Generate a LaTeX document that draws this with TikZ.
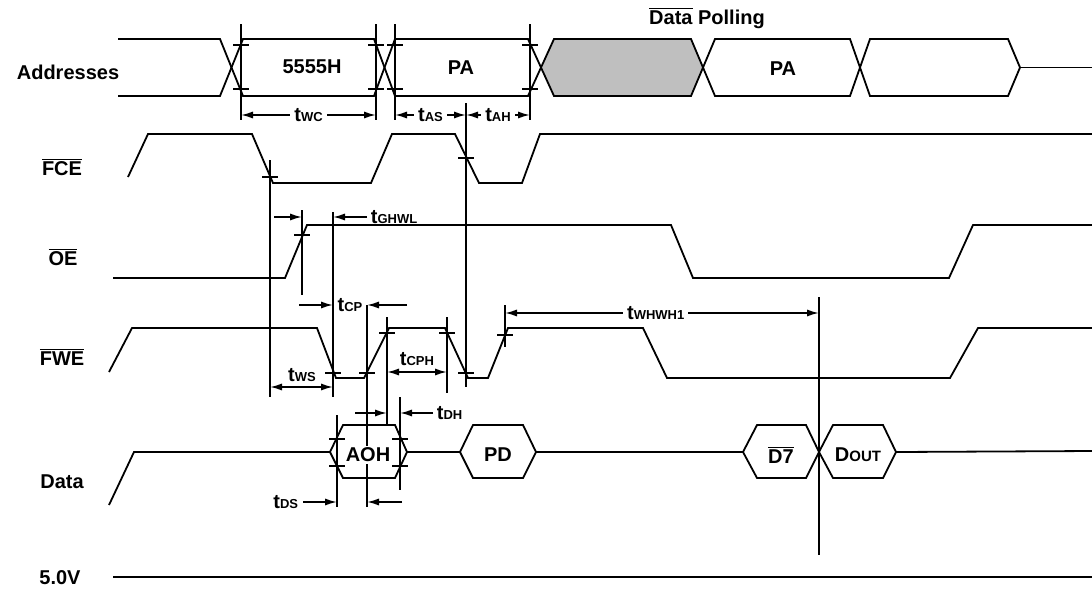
\documentclass[tikz,border=0pt]{standalone}
\usepackage{fontspec}
\setmainfont{Liberation Sans}
\usetikzlibrary{arrows.meta}
\newcommand{\ovl}[1]{$\overline{\mbox{#1}}$}
\newcommand{\tsub}[1]{t{\fontsize{6.5}{7}\selectfont #1}}
\begin{document}
\begin{tikzpicture}[x=0.5pt,y=-0.5pt,line width=0.9pt,
  >={Latex[length=6pt,width=3.6pt]},
  every node/.style={font=\bfseries\fontsize{10}{12}\selectfont},
  tlab/.style={fill=white,inner sep=2pt}]
\useasboundingbox (0,0) rectangle (1092,590);

%signal names on the left
\node (addr) at (68,72) {Addresses};
\node (fce) at (62,167) {\ovl{FCE}};
\node (oe) at (63,257) {\ovl{OE}};
\node (fwe) at (62,357) {\ovl{FWE}};
\node (data) at (62,482) {Data};
\node (vcc) at (60,578) {5.0V};

%address bus
\draw (118,39) -- (220,39) -- (231.5,67.5);
\draw (118,96) -- (220,96) -- (231.5,67.5);
\draw (231.5,67.5) -- (243,39) -- (374,39) -- (384.5,67.5) -- (374,96) -- (243,96) -- cycle;
\draw (384.5,67.5) -- (395,39) -- (528,39) -- (541,67.5) -- (528,96) -- (395,96) -- cycle;
\draw[fill=black!25] (541,67.5) -- (554,39) -- (691,39) -- (703,67.5) -- (691,96) -- (554,96) -- cycle;
\draw (703,67.5) -- (715,39) -- (850,39) -- (860,67.5) -- (850,96) -- (715,96) -- cycle;
\draw (860,67.5) -- (870,39) -- (1008,39) -- (1020,67.5) -- (1008,96) -- (870,96) -- cycle;
\draw (1020,67.5) -- (1092,67.5);
\node (a1) at (312,67) {5555H};
\node (a2) at (461,68) {PA};
\node (a4) at (783,69) {PA};
\node (poll) at (707,18) {\ovl{Data} Polling};

%control lines
\draw (128,177) -- (148,134) -- (252,134) -- (273,183) -- (371,183) -- (392,134)
  -- (455,134) -- (479,183) -- (522,183) -- (540,134) -- (1092,134);
\draw (113,278) -- (285,278) -- (307,225) -- (671,225) -- (693,278) -- (949,278)
  -- (973,225) -- (1092,225);
\draw (109,372) -- (132,328) -- (317,328) -- (336,378) -- (364,378) -- (389,328)
  -- (445,328) -- (468,378) -- (488,378) -- (508,328) -- (643,328) -- (667,378)
  -- (950,378) -- (978,328) -- (1092,328);

%data bus
\draw (109,505) -- (134,452) -- (330,452);
\draw (330,452) -- (343,425) -- (395,425) -- (407,452) -- (395,478) -- (343,478) -- cycle;
\draw (407,452) -- (460,452);
\draw (460,452) -- (473,425) -- (523,425) -- (536,452) -- (523,478) -- (473,478) -- cycle;
\draw (536,452) -- (743,452);
\draw (743,452) -- (757,425) -- (806,425) -- (819,452) -- (806,478) -- (757,478) -- cycle;
\draw (819,452) -- (833,425) -- (883,425) -- (896,452) -- (883,478) -- (833,478) -- cycle;
\draw (896,452) -- (1092,451);
\draw (113,577) -- (1092,577);

%reference lines
\foreach \x in {241,376,395,530}
  \draw (\x,24) -- (\x,120);
\foreach \x/\ya/\yb in {466/103/387, 270/160/397, 302/210/295, 333/212/397,
  367/305/507, 387/317/425, 447/317/393, 505/305/347, 337/415/507,
  400/397/490, 819/297/555}
  \draw (\x,\ya) -- (\x,\yb);
\foreach \x/\y in {241/45, 241/89, 376/45, 376/89, 395/45, 395/89, 530/45, 530/89,
  270/177, 466/158, 302/235, 333/373, 367/373, 387/333, 447/333, 466/373,
  505/335, 337/439, 337/466, 400/439, 400/466}
  \draw (\x-8,\y) -- (\x+8,\y);

\node[fill=white,inner sep=1pt] (aoh) at (368,455) {AOH};
\node (pd) at (498,455) {PD};
\node (d7) at (781,455) {\ovl{D7}};
\node (dout) at (858,455) {D{\fontsize{7.5}{8}\selectfont OUT}};

%timing parameters
\draw[<->] (241,115) -- node[tlab] (twc) {\tsub{WC}} (376,115);
\draw[<->] (395,115) -- node[tlab] (tas) {\tsub{AS}} (466,115);
\draw[<->] (466,115) -- node[tlab] (tah) {\tsub{AH}} (530,115);
\draw[->] (274,217) -- (302,217);
\draw[->] (367,217) -- (333,217);
\node[anchor=west,inner sep=1pt] (tghwl) at (368,217) {\tsub{GHWL}};
\draw[->] (299,305) -- (333,305);
\draw[->] (407,305) -- (367,305);
\node (tcp) at (350,305) {\tsub{CP}};
\draw[<->] (505,313) -- node[tlab,pos=0.48] (twhwh) {\tsub{WHWH1}} (819,313);
\draw[<->] (387,372) -- (447,372);
\node (tcph) at (417,359) {\tsub{CPH}};
\draw[<->] (270,387) -- (333,387);
\node (tws) at (302,375) {\tsub{WS}};
\draw[->] (355,413) -- (387,413);
\draw[->] (433,413) -- (400,413);
\node[anchor=west,inner sep=1pt] (tdh) at (434,413) {\tsub{DH}};
\draw[->] (303,502) -- (337,502);
\draw[->] (402,502) -- (367,502);
\node[anchor=east,inner sep=1pt] (tds) at (301,502) {\tsub{DS}};

\end{tikzpicture}
\end{document}
